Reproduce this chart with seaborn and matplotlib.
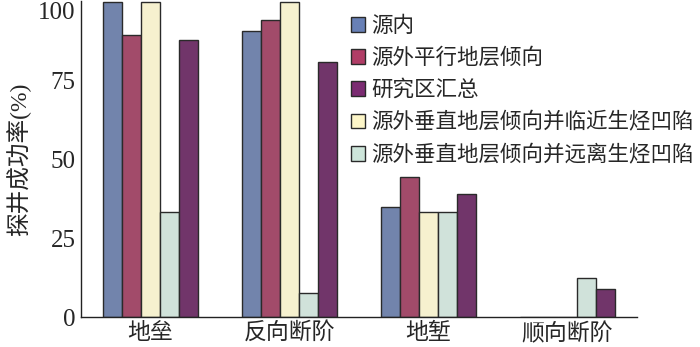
import matplotlib
matplotlib.use("Agg")
import matplotlib.pyplot as plt
from matplotlib.patches import Patch
import seaborn as sns
import pandas as pd
import numpy as np

# groups on the x axis
categories = ["地垒", "反向断阶", "地堑", "顺向断阶"]

# series in the order they stand inside each group
series_names = ["源内", "源外平行地层倾向", "源外垂直地层倾向并临近生烃凹陷",
                "源外垂直地层倾向并远离生烃凹陷", "研究区汇总"]
yuan_nei = [100, 91, 35, 0]
parallel = [89.5, 94.5, 44.5, 0]
perp_near = [100, 100, 33.3, 0]
perp_far = [33.3, 7.5, 33.3, 12.5]
total = [88, 81, 39, 9]

legend_order = ["源内", "源外平行地层倾向", "研究区汇总",
                "源外垂直地层倾向并临近生烃凹陷", "源外垂直地层倾向并远离生烃凹陷"]
colors = {
    "源内": "#6880b6",
    "源外平行地层倾向": "#b03d66",
    "研究区汇总": "#7b2b72",
    "源外垂直地层倾向并临近生烃凹陷": "#fdf6c8",
    "源外垂直地层倾向并远离生烃凹陷": "#cde5da",
}

y_ticks = [0, 25, 50, 75, 100]

values = [yuan_nei, parallel, perp_near, perp_far, total]
rows = []
for name, vals in zip(series_names, values):
    for cat, v in zip(categories, vals):
        rows.append({"cat": cat, "series": name, "rate": v})
df = pd.DataFrame(rows)

sns.set_style("white")
plt.rcParams["font.family"] = ["Liberation Serif", "Noto Sans CJK SC"]

fig = plt.figure(figsize=(7, 3.47), dpi=100)
ax = fig.add_axes([81 / 700, 1 - 317 / 347, (637 - 81) / 700, 316 / 347])

sns.barplot(data=df, x="cat", y="rate", hue="series", order=categories,
            hue_order=series_names, palette=colors, width=0.68,
            edgecolor="#2a2a2a", linewidth=1.0, ax=ax, legend=False)

ax.set_xlim(-0.5, 3.5)
ax.set_ylim(0, 100.4)
ax.set_yticks(y_ticks)
ax.set_yticklabels([str(t) for t in y_ticks], fontsize=18)
# top label sits inside the figure, as in the source
ax.get_yticklabels()[-1].set_verticalalignment("top")
ax.set_xticks(range(len(categories)))
ax.set_xticklabels(categories, fontsize=16.5)
ax.set_xticks(np.arange(0.5, 4, 1), minor=True)
ax.tick_params(axis="x", which="major", length=0, pad=4)
ax.tick_params(axis="x", which="minor", direction="in", length=8, width=1, color="#222222")
ax.tick_params(axis="y", direction="in", length=9, width=1, color="#222222", pad=4)
ax.set_xlabel("")
ax.set_ylabel("探井成功率(%)", fontsize=17, labelpad=5)

sns.despine(ax=ax)
for sp in ["left", "bottom"]:
    ax.spines[sp].set_color("#222222")
    ax.spines[sp].set_linewidth(1.0)

handles = [Patch(facecolor=colors[n], edgecolor="#2a2a2a", linewidth=1.0) for n in legend_order]
fig.legend(handles, legend_order, loc="upper left", bbox_to_anchor=(351 / 700, 0.952),
           frameon=False, fontsize=15.5, handlelength=0.66, handleheight=0.66,
           handletextpad=0.28, labelspacing=0.53, borderaxespad=0, borderpad=0)

fig.savefig("out.png", dpi=100)
